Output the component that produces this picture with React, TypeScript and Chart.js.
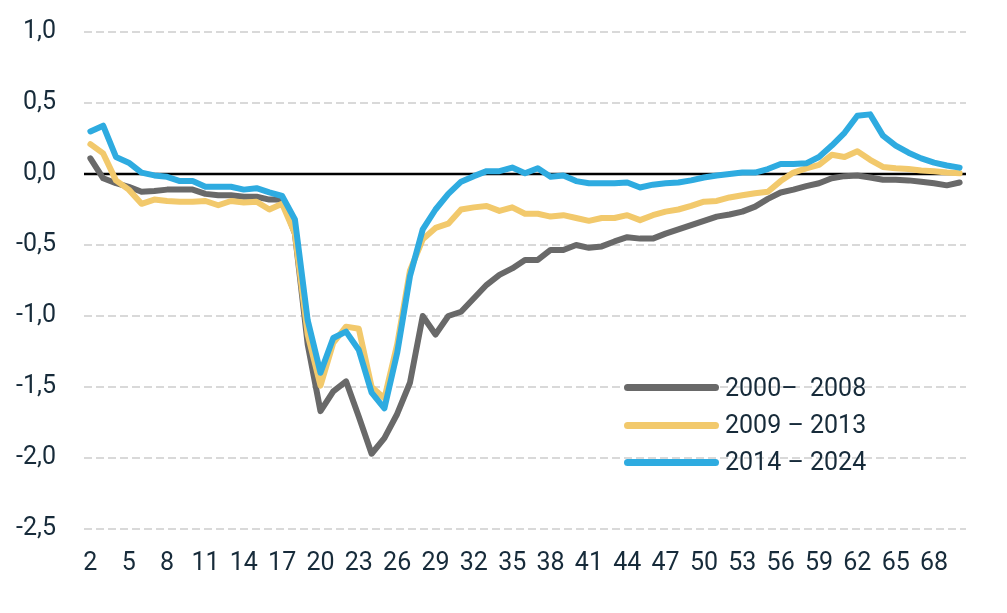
import React, { useEffect, useRef } from 'react';
import { Chart, registerables } from 'chart.js';

Chart.register(...registerables);

const ages = [
  2, 3, 4, 5, 6, 7, 8, 9, 10, 11, 12, 13, 14, 15, 16, 17, 18, 19, 20, 21, 22, 23, 24, 25, 26, 27, 28, 29, 30,
  31, 32, 33, 34, 35, 36, 37, 38, 39, 40, 41, 42, 43, 44, 45, 46, 47, 48, 49, 50, 51, 52, 53, 54, 55, 56, 57,
  58, 59, 60, 61, 62, 63, 64, 65, 66, 67, 68, 69, 70,
];

const period2000_2008 = [
  0.11, -0.03, -0.065, -0.09, -0.125, -0.12, -0.11, -0.11, -0.11, -0.14, -0.15, -0.15, -0.16, -0.16, -0.18, -0.18,
  -0.42, -1.2, -1.67, -1.53, -1.46, -1.71, -1.97, -1.86, -1.69, -1.47, -1.0, -1.13, -1.0, -0.97,
  -0.875, -0.78, -0.71, -0.665, -0.605, -0.605, -0.535, -0.535, -0.5, -0.52, -0.51, -0.475, -0.445, -0.455, -0.455,
  -0.42, -0.39, -0.36, -0.33, -0.3, -0.285, -0.265, -0.23, -0.175, -0.13, -0.11, -0.085, -0.065, -0.03, -0.015,
  -0.01, -0.025, -0.04, -0.04, -0.045, -0.055, -0.065, -0.08, -0.06,
];

const period2009_2013 = [
  0.21, 0.145, -0.045, -0.11, -0.21, -0.18, -0.19, -0.195, -0.195, -0.19, -0.22, -0.19, -0.2, -0.195, -0.25, -0.21,
  -0.42, -1.13, -1.49, -1.19, -1.075, -1.09, -1.5, -1.58, -1.2, -0.68, -0.46, -0.38, -0.35, -0.25,
  -0.235, -0.225, -0.26, -0.235, -0.28, -0.28, -0.3, -0.29, -0.31, -0.33, -0.31, -0.31, -0.29, -0.325, -0.29,
  -0.265, -0.25, -0.225, -0.195, -0.19, -0.165, -0.15, -0.135, -0.125, -0.05, 0.01, 0.04, 0.065, 0.135, 0.12,
  0.16, 0.1, 0.05, 0.04, 0.035, 0.025, 0.02, 0.01, 0.005,
];

const period2014_2024 = [
  0.3, 0.34, 0.12, 0.08, 0.01, -0.01, -0.02, -0.05, -0.05, -0.09, -0.09, -0.09, -0.11, -0.1, -0.13, -0.155,
  -0.32, -1.03, -1.4, -1.155, -1.11, -1.24, -1.54, -1.65, -1.26, -0.72, -0.39, -0.25, -0.14, -0.054,
  -0.015, 0.02, 0.02, 0.045, 0.005, 0.04, -0.02, -0.01, -0.05, -0.065, -0.065, -0.065, -0.06, -0.095, -0.075,
  -0.065, -0.06, -0.045, -0.025, -0.01, 0.0, 0.01, 0.01, 0.035, 0.07, 0.07, 0.075, 0.12, 0.2, 0.29,
  0.41, 0.42, 0.27, 0.2, 0.15, 0.11, 0.08, 0.06, 0.045,
];

const seriesLabels = ['2000–  2008', '2009 – 2013', '2014 – 2024'];
const seriesColors = ['#696969', '#f2c96c', '#2eabe0'];
const seriesValues = [period2000_2008, period2009_2013, period2014_2024];

const TEXT = '#172b3a';
const FONT = 'Roboto, "Noto Sans", sans-serif';

// solid black line at 0, under the series
const zeroLine = {
  id: 'zeroLine',
  beforeDatasetsDraw(chart: Chart) {
    const { ctx, chartArea, scales } = chart;
    const y = scales.y.getPixelForValue(0);
    ctx.save();
    ctx.strokeStyle = '#000000';
    ctx.lineWidth = 2.5;
    ctx.beginPath();
    ctx.moveTo(chartArea.left, y);
    ctx.lineTo(chartArea.right, y);
    ctx.stroke();
    ctx.restore();
  },
};

export default function App() {
  const canvasRef = useRef<HTMLCanvasElement>(null);

  useEffect(() => {
    if (!canvasRef.current) return;
    const chart = new Chart(canvasRef.current, {
      type: 'line',
      data: {
        labels: ages,
        datasets: seriesValues.map((values, i) => ({
          label: seriesLabels[i],
          data: values,
          borderColor: seriesColors[i],
          backgroundColor: seriesColors[i],
          borderWidth: 6,
          pointRadius: 0,
          tension: 0,
          borderCapStyle: 'round' as const,
          borderJoinStyle: 'round' as const,
          order: 2 - i,
        })),
      },
      options: {
        animation: false,
        responsive: true,
        maintainAspectRatio: false,
        layout: { padding: { top: 32, right: 41, bottom: 0, left: 0 } },
        plugins: { legend: { display: false }, tooltip: { enabled: false } },
        scales: {
          x: {
            offset: true,
            grid: { display: false },
            border: { display: false },
            ticks: {
              autoSkip: false,
              maxRotation: 0,
              padding: 12,
              color: TEXT,
              font: { family: FONT, size: 25 },
              callback: (_v, i) => ((ages[i] - 2) % 3 === 0 ? String(ages[i]) : ''),
            },
            afterFit: (scale) => {
              scale.height = 84;
            },
          },
          y: {
            min: -2.5,
            max: 1.0,
            border: { display: false, dash: [8, 4] },
            grid: { color: '#d9d9d9', lineWidth: 2, drawTicks: false },
            ticks: {
              stepSize: 0.5,
              padding: 28,
              color: TEXT,
              font: { family: FONT, size: 25 },
              callback: (v) => Number(v).toFixed(1).replace('.', ','),
            },
            afterFit: (scale) => {
              scale.width = 84;
              scale.paddingTop = 0;
              scale.paddingBottom = 0;
            },
          },
        },
      },
      plugins: [zeroLine],
    });
    return () => chart.destroy();
  }, []);

  const legendTop = [387.5, 425, 462];

  return (
    <div style={{ position: 'fixed', left: 0, top: 0, width: 1007, height: 613, background: '#fff' }}>
      <canvas ref={canvasRef}></canvas>
      {seriesLabels.map((label, i) => (
        <div key={label}>
          <div
            style={{
              position: 'absolute',
              left: 624,
              top: legendTop[i] - 3.5,
              width: 95,
              height: 7,
              borderRadius: 4,
              background: seriesColors[i],
            }}
          />
          <div
            style={{
              position: 'absolute',
              left: 725,
              top: legendTop[i] - 16,
              height: 32,
              lineHeight: '32px',
              fontFamily: FONT,
              fontSize: 25,
              color: TEXT,
              whiteSpace: 'pre',
            }}
          >
            {label}
          </div>
        </div>
      ))}
    </div>
  );
}
